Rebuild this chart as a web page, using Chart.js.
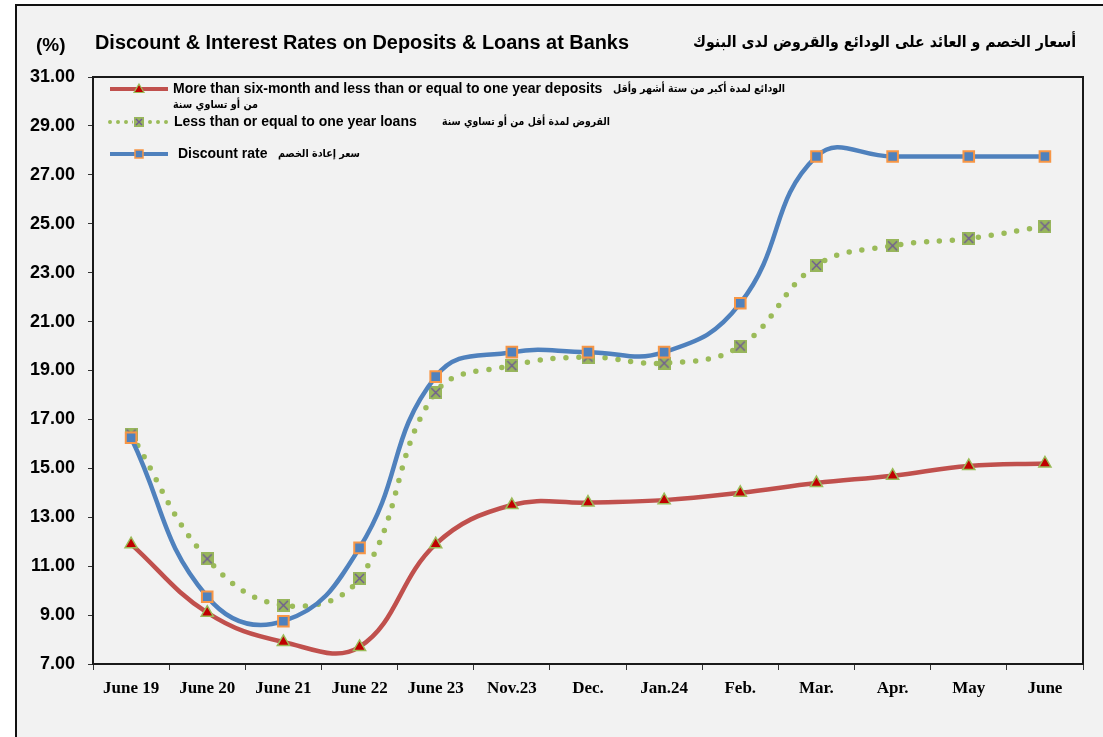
<!DOCTYPE html>
<html>
<head>
<meta charset="utf-8">
<script src="https://cdn.jsdelivr.net/npm/chart.js@4.4.0/dist/chart.umd.min.js"></script>
<style>
  html, body { margin: 0; padding: 0; background: #fff; }
  #frame { position: absolute; left: 15px; top: 4px; width: 1200px; height: 800px;
           border: 2px solid #111; background: #f2f2f2; }
  #wrap { position: absolute; left: 0; top: 0; width: 1103px; height: 737px; }
</style>
</head>
<body>
<div id="frame"></div>
<div id="wrap"><canvas id="rates" width="1103" height="737"></canvas></div>
<script>
// data
var labels = ["June 19", "June 20", "June 21", "June 22", "June 23", "Nov.23", "Dec.", "Jan.24", "Feb.", "Mar.", "Apr.", "May", "June"];
var depositRates  = [11.9, 9.1, 7.9, 7.7, 11.9, 13.5, 13.6, 13.7, 14.0, 14.4, 14.7, 15.1, 15.2];
var loanRates     = [16.4, 11.3, 9.4, 10.5, 18.1, 19.2, 19.55, 19.3, 20.0, 23.3, 24.1, 24.4, 24.9];
var discountRates = [16.25, 9.75, 8.75, 11.75, 18.75, 19.75, 19.75, 19.75, 21.75, 27.75, 27.75, 27.75, 27.75];
var yMin = 7, yMax = 31, yStep = 2;

var seriesNames = [
  "More than six-month and less than or equal to one year deposits",
  "Less than or equal to one year loans",
  "Discount rate"
];
var seriesNamesAr = [
  "الودائع لمدة أكبر من ستة أشهر وأقل",
  "القروض لمدة أقل من أو تساوي سنة",
  "سعر إعادة الخصم"
];
var seriesNamesAr2 = "من أو تساوي سنة";

var RED = "#c0504d", GREEN = "#9bbb59", BLUE = "#4f81bd";

// green square with purple cross used for the loans series
function crossBox(size) {
  var c = document.createElement("canvas");
  c.width = size; c.height = size;
  var g = c.getContext("2d");
  g.fillStyle = "#98b65c";
  g.fillRect(0, 0, size, size);
  g.strokeStyle = "#6f5a94";
  g.lineWidth = 1.4;
  g.beginPath();
  g.moveTo(2, 2); g.lineTo(size - 2, size - 2);
  g.moveTo(size - 2, 2); g.lineTo(2, size - 2);
  g.stroke();
  return c;
}
var crossMark = crossBox(13);
var crossMarkSmall = crossBox(10);

var arFont = '"DejaVu Sans", "Noto Sans", sans-serif';
var enFont = '"Liberation Sans", Arial, sans-serif';

var decorations = {
  id: "decorations",
  beforeDatasetsDraw: function(chart) {
    var ctx = chart.ctx, a = chart.chartArea;
    ctx.save();
    ctx.strokeStyle = "#1a1a1a";
    ctx.lineWidth = 2;
    ctx.strokeRect(a.left, a.top, a.right - a.left, a.bottom - a.top);
    ctx.restore();
  },
  afterDraw: function(chart) {
    var ctx = chart.ctx;
    ctx.save();
    ctx.fillStyle = "#000";
    ctx.textBaseline = "middle";

    // titles
    ctx.textAlign = "left";
    ctx.font = "bold 19px " + enFont;
    ctx.fillText("(%)", 36, 46);
    ctx.font = "bold 20px " + enFont;
    ctx.fillText("Discount & Interest Rates on Deposits & Loans at Banks", 95, 43, 534);
    ctx.textAlign = "right";
    ctx.font = "bold 16px " + arFont;
    ctx.fillText("أسعار الخصم و العائد على الودائع والقروض لدى البنوك", 1076, 43, 383);

    // legend
    var rows = [89, 122, 154];
    // deposits
    ctx.lineCap = "butt";
    ctx.strokeStyle = RED; ctx.lineWidth = 4;
    ctx.beginPath(); ctx.moveTo(110, rows[0]); ctx.lineTo(168, rows[0]); ctx.stroke();
    ctx.beginPath();
    ctx.moveTo(139, rows[0] - 5); ctx.lineTo(144, rows[0] + 3.5); ctx.lineTo(134, rows[0] + 3.5);
    ctx.closePath();
    ctx.fillStyle = "#c00000"; ctx.fill();
    ctx.strokeStyle = GREEN; ctx.lineWidth = 1.2; ctx.stroke();
    // loans
    ctx.strokeStyle = GREEN; ctx.lineWidth = 4; ctx.lineCap = "round";
    ctx.setLineDash([0, 8]);
    ctx.beginPath(); ctx.moveTo(110, rows[1]); ctx.lineTo(168, rows[1]); ctx.stroke();
    ctx.setLineDash([]);
    ctx.fillStyle = "#f2f2f2"; ctx.fillRect(133, rows[1] - 6, 12, 12);
    ctx.drawImage(crossMarkSmall, 134, rows[1] - 5);
    // discount
    ctx.strokeStyle = BLUE; ctx.lineWidth = 4; ctx.lineCap = "butt";
    ctx.beginPath(); ctx.moveTo(110, rows[2]); ctx.lineTo(168, rows[2]); ctx.stroke();
    ctx.fillStyle = BLUE; ctx.fillRect(135, rows[2] - 4, 8, 8);
    ctx.strokeStyle = "#f79646"; ctx.lineWidth = 1.5; ctx.strokeRect(135, rows[2] - 4, 8, 8);

    ctx.fillStyle = "#000";
    ctx.textAlign = "left";
    ctx.font = "bold 14px " + enFont;
    ctx.fillText(seriesNames[0], 173, rows[0]);
    ctx.fillText(seriesNames[1], 174, rows[1]);
    ctx.fillText(seriesNames[2], 178, rows[2]);
    ctx.font = "bold 11px " + arFont;
    ctx.textAlign = "right";
    ctx.fillText(seriesNamesAr[0], 785, rows[0], 172);
    ctx.fillText(seriesNamesAr2, 258, 105, 85);
    ctx.fillText(seriesNamesAr[1], 610, rows[1], 168);
    ctx.fillText(seriesNamesAr[2], 360, rows[2], 82);
    ctx.restore();
  }
};

new Chart(document.getElementById("rates"), {
  type: "line",
  data: {
    labels: labels,
    datasets: [
      {
        label: seriesNames[2],
        data: discountRates,
        order: 0,
        borderColor: BLUE,
        borderWidth: 4.5,
        tension: 0.45,
        pointStyle: "rect",
        pointRadius: 7.5,
        pointBackgroundColor: BLUE,
        pointBorderColor: "#f79646",
        pointBorderWidth: 2
      },
      {
        label: seriesNames[1],
        data: loanRates,
        order: 1,
        borderColor: GREEN,
        borderWidth: 5.5,
        borderDash: [0, 13],
        borderCapStyle: "round",
        tension: 0.4,
        pointStyle: crossMark,
        pointRadius: 7
      },
      {
        label: seriesNames[0],
        data: depositRates,
        order: 2,
        borderColor: RED,
        borderWidth: 4.5,
        tension: 0.4,
        pointStyle: "triangle",
        pointRadius: 7,
        pointBackgroundColor: "#c00000",
        pointBorderColor: GREEN,
        pointBorderWidth: 1.5
      }
    ]
  },
  options: {
    responsive: false,
    animation: false,
    layout: { padding: { top: 77, right: 20, left: 0, bottom: 0 } },
    plugins: {
      legend: { display: false },
      title: { display: false },
      tooltip: { enabled: false }
    },
    scales: {
      x: {
        offset: true,
        grid: { offset: true, drawOnChartArea: false, drawTicks: true, tickLength: 6, color: "#333" },
        border: { display: true, color: "#1a1a1a", width: 2 },
        ticks: {
          color: "#000",
          padding: 8,
          maxRotation: 0,
          autoSkip: false,
          font: { family: '"Liberation Serif", "Times New Roman", serif', size: 17, weight: "bold" }
        },
        afterFit: function(scale) { scale.height = 73; }
      },
      y: {
        min: yMin,
        max: yMax,
        grid: { drawOnChartArea: false, drawTicks: true, tickLength: 5, color: "#333" },
        border: { display: true, color: "#1a1a1a", width: 2 },
        ticks: {
          stepSize: yStep,
          color: "#000",
          padding: 13,
          font: { family: enFont, size: 18, weight: "bold" },
          callback: function(v) { return v.toFixed(2); }
        },
        afterFit: function(scale) { scale.width = 93; }
      }
    }
  },
  plugins: [decorations]
});
</script>
</body>
</html>
